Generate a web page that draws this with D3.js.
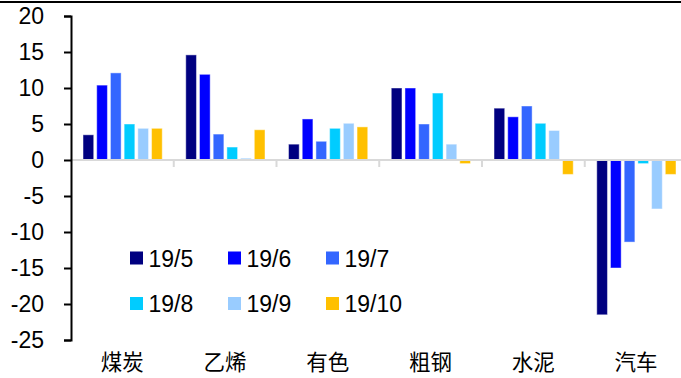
<!DOCTYPE html>
<html>
<head>
<meta charset="utf-8">
<script src="https://cdn.jsdelivr.net/npm/d3@7"></script>
<style>
  html, body { margin: 0; padding: 0; background: #fff; }
  svg { display: block; }
</style>
</head>
<body>
<svg id="chart" width="681" height="378"></svg>
<script>
// Categories, series and values (%)
const categories = ["煤炭", "乙烯", "有色", "粗钢", "水泥", "汽车"];
const seriesNames = ["19/5", "19/6", "19/7", "19/8", "19/9", "19/10"];
const seriesColors = ["#000080", "#0000ff", "#3366ff", "#00ccff", "#99ccff", "#ffc000"];
const values = [
  // 19/5  19/6   19/7   19/8  19/9  19/10
  [3.5,  10.4,  12.1,  5.0,  4.4,  4.4],   // 煤炭
  [14.6, 11.9,  3.6,   1.8,  0.25, 4.2],   // 乙烯
  [2.2,  5.7,   2.6,   4.4,  5.1,  4.6],   // 有色
  [10.0, 10.0,  5.0,   9.3,  2.2, -0.5],   // 粗钢
  [7.2,  6.0,   7.5,   5.1,  4.1, -2.0],   // 水泥
  [-21.5, -15.0, -11.4, -0.5, -6.8, -2.0]  // 汽车
];
const yTicks = [20, 15, 10, 5, 0, -5, -10, -15, -20, -25];

const svg = d3.select("#chart");
const W = 681;

const y = d3.scaleLinear().domain([-25, 20]).range([340, 16]);
const x0 = d3.scaleBand().domain(categories).range([71, 687.5]).padding(0);
const x1 = d3.scaleBand().domain(seriesNames)
  .range([x0.bandwidth() * 0.117, x0.bandwidth() * 0.888])
  .paddingInner(0.22).paddingOuter(0);

// top rule
svg.append("rect").attr("x", 0).attr("y", 1).attr("width", W).attr("height", 2).attr("fill", "#000");

// bars
const groups = svg.append("g").selectAll("g")
  .data(categories)
  .join("g")
  .attr("transform", d => `translate(${x0(d)},0)`);

groups.selectAll("rect")
  .data((c, i) => seriesNames.map((s, j) => ({ s, j, v: values[i][j] })))
  .join("rect")
  .attr("x", d => x1(d.s))
  .attr("width", x1.bandwidth())
  .attr("y", d => y(Math.max(0, d.v)))
  .attr("height", d => Math.abs(y(d.v) - y(0)))
  .attr("fill", d => seriesColors[d.j])
  .attr("stroke", "#ffffff")
  .attr("stroke-opacity", 0.45)
  .attr("stroke-width", 1);

// zero line (category axis)
const xAxisG = svg.append("g").attr("transform", `translate(0,${y(0)})`);
xAxisG.append("line")
  .attr("x1", 71).attr("x2", W).attr("y1", 0).attr("y2", 0)
  .attr("stroke", "#d9d9d9").attr("stroke-width", 2);
xAxisG.selectAll("line.tick")
  .data(categories.slice(1))
  .join("line")
  .attr("class", "tick")
  .attr("x1", d => x0(d)).attr("x2", d => x0(d))
  .attr("y1", 0).attr("y2", 7)
  .attr("stroke", "#d9d9d9").attr("stroke-width", 2);

// category labels
svg.append("g").selectAll("text")
  .data(categories)
  .join("text")
  .attr("x", d => x0(d) + x0.bandwidth() / 2)
  .attr("y", 370)
  .attr("text-anchor", "middle")
  .attr("font-family", "'Noto Sans CJK SC', sans-serif")
  .attr("font-size", 21.5)
  .attr("fill", "#000")
  .text(d => d);

// y axis
const yAxis = d3.axisLeft(y).tickValues(yTicks).tickSize(7).tickPadding(20).tickFormat(d3.format("d"));
const yG = svg.append("g").attr("transform", "translate(71,0)").call(yAxis);
yG.select(".domain").attr("stroke", "#000").attr("stroke-width", 2);
yG.selectAll(".tick line").attr("stroke", "#000").attr("stroke-width", 2);
yG.selectAll(".tick text")
  .attr("font-family", "'Liberation Sans', Arial, sans-serif")
  .attr("font-size", 23)
  .attr("fill", "#000")
  .text(d => d < 0 ? "-" + Math.abs(d) : d);

// legend
const legend = svg.append("g");
const legendItems = legend.selectAll("g")
  .data(seriesNames)
  .join("g")
  .attr("transform", (d, i) => `translate(${130 + (i % 3) * 98},${258 + Math.floor(i / 3) * 45.5})`);
legendItems.append("rect")
  .attr("x", 0).attr("y", -6.5).attr("width", 13).attr("height", 13)
  .attr("fill", (d, i) => seriesColors[i]);
legendItems.append("text")
  .attr("x", 18.5).attr("y", 8.5)
  .attr("font-family", "'Liberation Sans', Arial, sans-serif")
  .attr("font-size", 23)
  .attr("fill", "#000")
  .text(d => d);
</script>
</body>
</html>
